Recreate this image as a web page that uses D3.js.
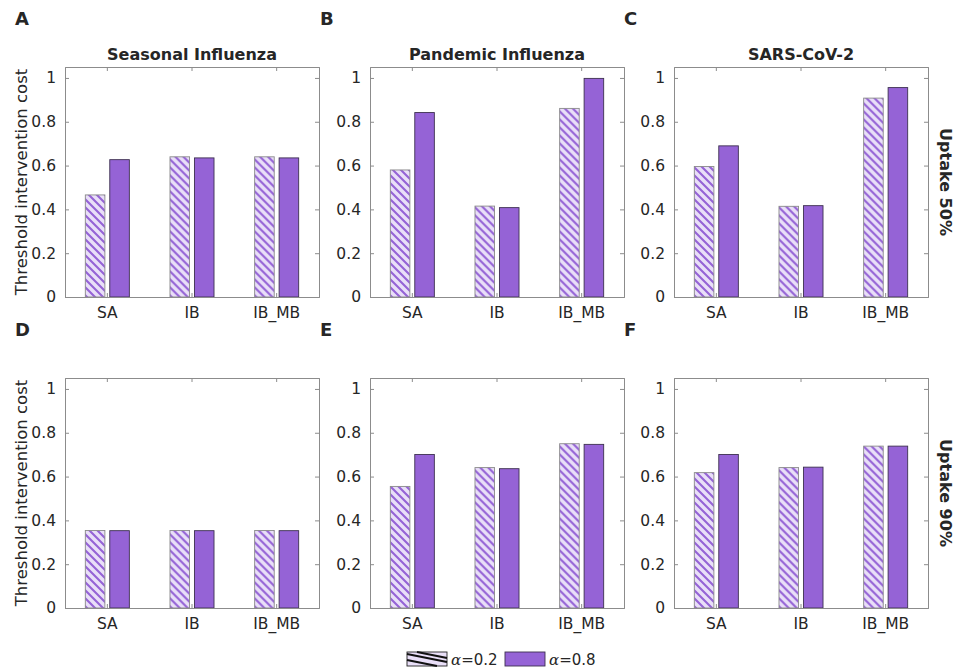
<!DOCTYPE html>
<html>
<head>
<meta charset="utf-8">
<script src="https://cdn.jsdelivr.net/npm/d3@7"></script>
<style>
  body { margin: 0; background: #fff; }
  text { font-family: "DejaVu Sans", sans-serif; fill: #262626; }
</style>
</head>
<body>
<div id="chart"></div>
<script>
// Data
const categories = ['SA', 'IB', 'IB_MB'];
const diseases = ['Seasonal Influenza', 'Pandemic Influenza', 'SARS-CoV-2'];
const uptakes = ['Uptake 50%', 'Uptake 90%'];
const panelLetters = [['A', 'B', 'C'], ['D', 'E', 'F']];
const seriesLabels = ['α=0.2', 'α=0.8'];
const yTicks = [0, 0.2, 0.4, 0.6, 0.8, 1];

// one row per disease, one value per category
const alpha02Uptake50 = [[0.466, 0.640, 0.640], [0.580, 0.415, 0.861], [0.596, 0.414, 0.908]];
const alpha08Uptake50 = [[0.627, 0.635, 0.635], [0.842, 0.408, 0.998], [0.690, 0.417, 0.956]];
const alpha02Uptake90 = [[0.354, 0.354, 0.354], [0.555, 0.641, 0.750], [0.618, 0.641, 0.739]];
const alpha08Uptake90 = [[0.353, 0.353, 0.353], [0.701, 0.636, 0.747], [0.701, 0.643, 0.739]];

const width = 963, height = 668;
const colX = [65, 370, 674];
const axW = 254;
const rowY = [67, 378];
const axH = 230;

const purple = '#9563d6';
const lightFill = '#e9dff8';

const svg = d3.select('#chart').append('svg')
    .attr('width', width)
    .attr('height', height);

// Hatch pattern for alpha=0.2 bars
const defs = svg.append('defs');
const hatch = defs.append('pattern')
    .attr('id', 'hatch')
    .attr('patternUnits', 'userSpaceOnUse')
    .attr('width', 8)
    .attr('height', 8);
hatch.append('rect').attr('width', 8).attr('height', 8).attr('fill', lightFill);
hatch.append('path')
    .attr('d', 'M-1,-1 L9,9 M-5,3 L1,9 M3,-5 L9,1')
    .attr('stroke', purple)
    .attr('stroke-width', 2.1);

const y = d3.scaleLinear().domain([0, 1.05]).range([axH, 0]);
const x = d3.scaleBand().domain(categories).range([0, axW]);
const xInner = d3.scaleBand().domain([0, 1])
    .range([x.bandwidth() * 0.24, x.bandwidth() * 0.76])
    .paddingInner(0.2);

const rowData = [[alpha02Uptake50, alpha08Uptake50], [alpha02Uptake90, alpha08Uptake90]];

rowData.forEach((pair, r) => {
    diseases.forEach((disease, c) => {
        const g = svg.append('g')
            .attr('transform', `translate(${colX[c]},${rowY[r]})`);

        // Bars
        const groups = g.append('g')
            .selectAll('g')
            .data(categories.map((cat, i) => ({ cat, values: [pair[0][c][i], pair[1][c][i]] })))
            .enter()
            .append('g')
            .attr('transform', d => `translate(${x(d.cat)},0)`);

        groups.selectAll('rect')
            .data(d => d.values)
            .enter()
            .append('rect')
            .attr('x', (d, i) => xInner(i))
            .attr('y', d => y(d))
            .attr('width', xInner.bandwidth())
            .attr('height', d => axH - y(d))
            .attr('fill', (d, i) => i === 0 ? 'url(#hatch)' : purple)
            .attr('stroke', (d, i) => i === 0 ? '#8a8a8a' : '#3d3050')
            .attr('stroke-width', 0.9);

        // Axes with inward ticks
        const yAxis = g.append('g')
            .call(d3.axisLeft(y).tickValues(yTicks).tickSize(-4).tickPadding(9)
                .tickFormat(d => d === 0 || d === 1 ? d3.format('d')(d) : d3.format('.1f')(d)));
        const yAxisR = g.append('g')
            .attr('transform', `translate(${axW},0)`)
            .call(d3.axisRight(y).tickValues(yTicks).tickSize(-4).tickFormat(''));
        const xAxis = g.append('g')
            .attr('transform', `translate(0,${axH})`)
            .call(d3.axisBottom(x).tickSize(-4).tickPadding(10));
        const xAxisT = g.append('g')
            .call(d3.axisTop(x).tickSize(-4).tickFormat(''));

        [yAxis, yAxisR, xAxis, xAxisT].forEach(a => {
            a.selectAll('path, line').attr('stroke', '#8c8c8c');
            a.selectAll('text').style('font-size', '15.5px').attr('fill', '#262626');
        });

        // Panel letter
        svg.append('text')
            .attr('x', colX[c] - 50)
            .attr('y', rowY[r] - 42)
            .style('font-size', '18px')
            .style('font-weight', 'bold')
            .attr('fill', '#000')
            .text(panelLetters[r][c]);

        if (r === 0) {
            g.append('text')
                .attr('x', axW / 2)
                .attr('y', -7)
                .attr('text-anchor', 'middle')
                .style('font-size', '16px')
                .style('font-weight', 'bold')
                .attr('fill', '#000')
                .text(disease);
        }

        if (c === 0) {
            g.append('text')
                .attr('transform', `translate(-38,${axH / 2}) rotate(-90)`)
                .attr('text-anchor', 'middle')
                .style('font-size', '16.5px')
                .text('Threshold intervention cost');
        }

        if (c === 2) {
            g.append('text')
                .attr('transform', `translate(${axW + 12},${axH / 2}) rotate(90)`)
                .attr('text-anchor', 'middle')
                .style('font-size', '16px')
                .style('font-weight', 'bold')
                .attr('fill', '#000')
                .text(uptakes[r]);
        }
    });
});

// Legend
const legend = svg.append('g').attr('transform', 'translate(407,652)');
const legendPositions = [0, 98];
seriesLabels.forEach((label, i) => {
    const item = legend.append('g').attr('transform', `translate(${legendPositions[i]},0)`);
    item.append('rect')
        .attr('width', 40)
        .attr('height', 14)
        .attr('fill', i === 0 ? lightFill : purple)
        .attr('stroke', i === 0 ? '#222' : '#3d3050')
        .attr('stroke-width', 0.9);
    if (i === 0) {
        item.append('path')
            .attr('d', 'M0,2 L40,10 M0,8 L30,14 M10,0 L40,6')
            .attr('stroke', '#111')
            .attr('stroke-width', 2.2);
    }
    const t = item.append('text')
        .attr('x', 44)
        .attr('y', 13)
        .style('font-size', '15px');
    t.append('tspan').style('font-family', '"DejaVu Serif", serif').style('font-style', 'italic').text(label[0]);
    t.append('tspan').text(label.slice(1));
});
</script>
</body>
</html>
